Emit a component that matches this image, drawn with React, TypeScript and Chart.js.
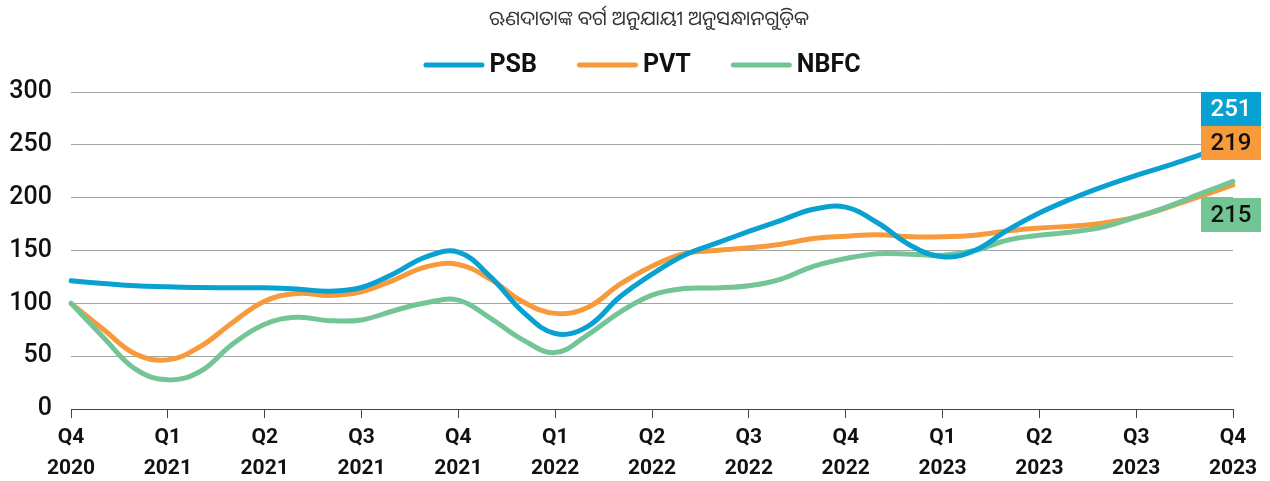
import React, { useEffect, useRef } from 'react';
import { Chart, registerables } from 'chart.js';
Chart.register(...registerables);

const titleText = 'ଋଣଦାତାଙ୍କ ବର୍ଗ ଅନୁଯାୟୀ ଅନୁସନ୍ଧାନଗୁଡ଼ିକ';

const months = [
  'Dec 2020',
  'Jan 2021', 'Feb 2021', 'Mar 2021', 'Apr 2021', 'May 2021', 'Jun 2021',
  'Jul 2021', 'Aug 2021', 'Sep 2021', 'Oct 2021', 'Nov 2021', 'Dec 2021',
  'Jan 2022', 'Feb 2022', 'Mar 2022', 'Apr 2022', 'May 2022', 'Jun 2022',
  'Jul 2022', 'Aug 2022', 'Sep 2022', 'Oct 2022', 'Nov 2022', 'Dec 2022',
  'Jan 2023', 'Feb 2023', 'Mar 2023', 'Apr 2023', 'May 2023', 'Jun 2023',
  'Jul 2023', 'Aug 2023', 'Sep 2023', 'Oct 2023', 'Nov 2023', 'Dec 2023',
];

const quarterTicks = [
  ['Q4', '2020'], ['Q1', '2021'], ['Q2', '2021'], ['Q3', '2021'], ['Q4', '2021'],
  ['Q1', '2022'], ['Q2', '2022'], ['Q3', '2022'], ['Q4', '2022'],
  ['Q1', '2023'], ['Q2', '2023'], ['Q3', '2023'], ['Q4', '2023'],
];

const seriesNames = ['PSB', 'PVT', 'NBFC'];

const psb = [
  121.3, 118.8, 116.6, 115.7, 115, 114.8, 114.7, 113.6, 111.5, 115, 128, 144, 148.5,
  125, 92, 71.5, 78, 106, 127.6, 145.6, 157, 168, 178.6, 189, 191,
  176, 155, 144, 150, 169, 185.5, 199, 210.7, 221, 230.5, 240.8, 251,
];

const pvt = [
  100, 75.5, 52, 46.5, 59, 81.7, 102, 109.4, 107.5, 111, 122, 134.5, 136.8,
  122.6, 101.5, 90.5, 96, 118, 135.2, 147, 150, 152.5, 156, 161.3, 163.5,
  165, 163, 163, 164.5, 168.5, 171.3, 173, 176, 181.7, 191, 201.5, 212,
];

const nbfc = [
  100, 68, 37.7, 27.6, 35.5, 61.3, 80.2, 86.8, 83.6, 84.3, 93, 100.6, 103,
  85.8, 65.4, 53.4, 70, 91.5, 107.8, 114, 114.6, 116.6, 123, 135, 142.4,
  147, 146.5, 145.6, 150, 159.7, 164.4, 167.5, 172.3, 181.7, 191.8, 203.8, 215.4,
];

const endLabels = ['251', '219', '215'];
const colors = ['#08A1D2', '#F79A3B', '#73C595'];
const endLabelTextColors = ['#ffffff', '#111111', '#111111'];

export default function App() {
  const ref = useRef<HTMLCanvasElement>(null);

  useEffect(() => {
    if (!ref.current) return;

    const overlay = {
      id: 'overlay',
      afterDraw(chart: any) {
        const ctx = chart.ctx as CanvasRenderingContext2D;
        const area = chart.chartArea;
        ctx.save();
        // title
        ctx.fillStyle = '#333333';
        ctx.font = '20px "Noto Sans Oriya", "Noto Sans", sans-serif';
        ctx.textAlign = 'center';
        ctx.textBaseline = 'middle';
        ctx.fillText(titleText, 649, 19);

        // legend
        ctx.font = 'bold 25px Roboto, sans-serif';
        const lineLen = 56;
        const cap = 2.5;
        const gapText = 5;
        const gapItem = 40;
        const widths = seriesNames.map((n) => ctx.measureText(n).width);
        let total = 0;
        widths.forEach((w, i) => {
          total += cap * 2 + lineLen + gapText + w + (i < widths.length - 1 ? gapItem : 0);
        });
        let x = 642 - total / 2;
        const ly = 65;
        seriesNames.forEach((name, i) => {
          ctx.strokeStyle = colors[i];
          ctx.lineWidth = 5;
          ctx.lineCap = 'round';
          ctx.beginPath();
          ctx.moveTo(x + cap, ly);
          ctx.lineTo(x + cap + lineLen, ly);
          ctx.stroke();
          x += cap * 2 + lineLen + gapText;
          ctx.fillStyle = '#111111';
          ctx.textAlign = 'left';
          ctx.textBaseline = 'middle';
          ctx.fillText(name, x, ly + 1);
          x += widths[i] + gapItem;
        });

        // end value labels
        const bx = 1201;
        const bw = 60;
        const bh = 34;
        const tops = [area.top, area.top + bh, area.top + 106];
        ctx.font = '500 24px Roboto, sans-serif';
        endLabels.forEach((t, i) => {
          ctx.fillStyle = colors[i];
          ctx.fillRect(bx, tops[i], bw, bh);
          ctx.fillStyle = endLabelTextColors[i];
          ctx.textAlign = 'center';
          ctx.textBaseline = 'middle';
          ctx.fillText(t, bx + bw / 2, tops[i] + bh / 2 + 1);
        });
        ctx.restore();
      },
    };

    const series = [psb, pvt, nbfc];
    const orders = [0, 2, 1];

    const chart = new Chart(ref.current, {
      type: 'line',
      data: {
        labels: months,
        datasets: series.map((d, i) => ({
          label: seriesNames[i],
          data: d,
          borderColor: colors[i],
          backgroundColor: colors[i],
          borderWidth: 5,
          tension: 0.4,
          pointRadius: 0,
          pointHoverRadius: 0,
          borderCapStyle: 'round' as const,
          borderJoinStyle: 'round' as const,
          fill: false,
          order: orders[i],
        })),
      },
      options: {
        animation: false,
        responsive: true,
        maintainAspectRatio: false,
        layout: { padding: { top: 92, right: 37, left: 8, bottom: 0 } },
        plugins: {
          legend: { display: false },
          title: { display: false },
          tooltip: { enabled: false },
        },
        scales: {
          x: {
            type: 'category',
            afterFit: (scale: any) => {
              scale.height = 72;
            },
            border: { display: true, color: '#444444', width: 1 },
            grid: {
              display: true,
              drawOnChartArea: false,
              drawTicks: true,
              tickLength: 9,
              color: '#444444',
            },
            ticks: {
              autoSkip: false,
              maxRotation: 0,
              minRotation: 0,
              padding: 5,
              color: '#111111',
              font: { family: 'Roboto', size: 21, weight: 'bold', lineHeight: 1.45 },
              callback: (_v: any, index: number) =>
                index % 3 === 0 ? quarterTicks[index / 3] : null,
            },
          },
          y: {
            min: 0,
            max: 300,
            afterFit: (scale: any) => {
              scale.width = 63;
            },
            border: { display: false },
            grid: {
              color: (c: any) => (c.tick && c.tick.value === 0 ? 'rgba(0,0,0,0)' : '#a3a3a3'),
              lineWidth: 1,
              drawTicks: false,
            },
            ticks: {
              stepSize: 50,
              padding: 19,
              color: '#111111',
              font: { family: 'Roboto', size: 25, weight: '500' },
            },
          },
        },
      },
      plugins: [overlay],
    });

    return () => chart.destroy();
  }, []);

  return (
    <div style={{ position: 'fixed', left: 0, top: 0, width: 1270, height: 481, background: '#fff' }}>
      <canvas ref={ref} />
    </div>
  );
}
